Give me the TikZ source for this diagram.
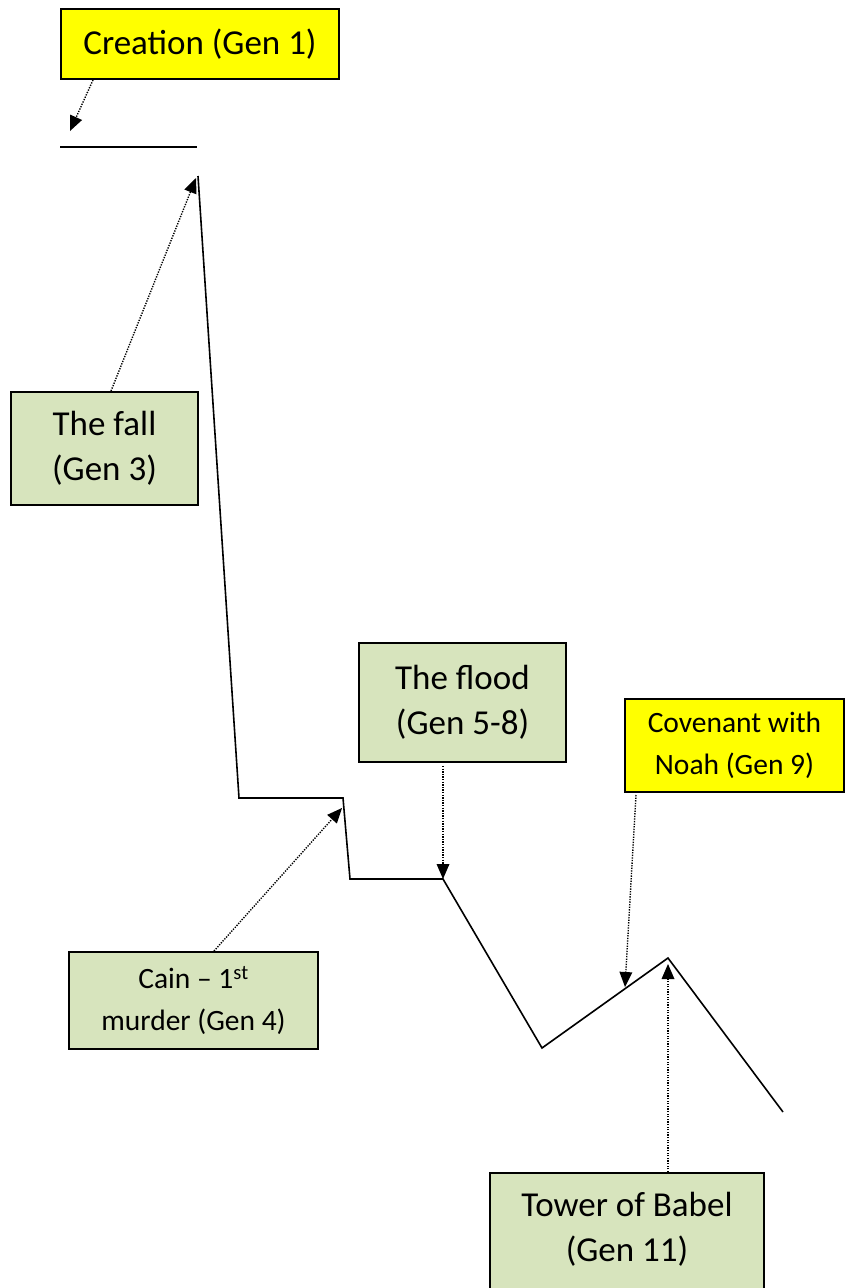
\documentclass[tikz,border=0pt]{standalone}
\usepackage{fontspec}
\setmainfont{Carlito}
\usetikzlibrary{arrows.meta}
\definecolor{boxyellow}{HTML}{FFFF00}
\definecolor{boxgreen}{HTML}{D7E4BD}
\begin{document}
\begin{tikzpicture}[x=1pt,y=-1pt,
  labelbox/.style={draw=black,line width=2pt,align=center,inner sep=0pt,anchor=north west},
  yellowbox/.style={labelbox,fill=boxyellow},
  greenbox/.style={labelbox,fill=boxgreen},
  bigtext/.style={font=\fontsize{35}{45}\selectfont},
  smalltext/.style={font=\fontsize{29.5}{42}\selectfont},
  history/.style={draw=black,line width=1.6pt,line join=miter},
  pointer/.style={draw=black,line width=1.4pt,dash pattern=on 1.3pt off 1.3pt,
    -{Triangle[length=15pt,width=13pt,line width=0pt]}}
]
\useasboundingbox (0,0) rectangle (844,1288);

% boxes
\node[yellowbox,bigtext,minimum width=278,minimum height=70] (creation) at (60,8) {Creation (Gen 1)};
\node[greenbox,bigtext,minimum width=187,minimum height=113] (fall) at (10,391) {The fall\\(Gen 3)};
\node[greenbox,bigtext,minimum width=207,minimum height=119] (flood) at (358,642) {The flood\\(Gen 5-8)};
\node[yellowbox,smalltext,minimum width=219,minimum height=93] (covenant) at (624,698) {Covenant with\\Noah (Gen 9)};
\node[greenbox,smalltext,minimum width=249,minimum height=97] (cain) at (68,951) {Cain -- 1\textsuperscript{st}\\murder (Gen 4)};
\node[greenbox,bigtext,minimum width=274,minimum height=140,text depth=33pt] (tower) at (489,1172) {Tower of Babel\\(Gen 11)};

% the line of history
\coordinate (t0) at (60,147);
\coordinate (t1) at (197,147);
\coordinate (p0) at (198,176);
\coordinate (p1) at (239,798);
\coordinate (p2) at (343,798);
\coordinate (p3) at (350,879);
\coordinate (p4) at (443,879);
\coordinate (p5) at (542,1048);
\coordinate (p6) at (668,958);
\coordinate (p7) at (783,1112);
\draw[history] (t0) -- (t1);
\draw[history] (p0) -- (p1) -- (p2) -- (p3) -- (p4) -- (p5) -- (p6) -- (p7);

% pointer targets
\coordinate (aCreation) at (70,131);
\coordinate (aFall) at (196,178);
\coordinate (aCain) at (342,808);
\coordinate (aFlood) at (443,879);
\coordinate (aCovenant) at (625,987);
\coordinate (aTower) at (668,964);

% pointers
\draw[pointer] ([xshift=33pt]creation.south west) -- (aCreation);
\draw[pointer] ([xshift=101pt]fall.north west) -- (aFall);
\draw[pointer] ([xshift=146pt]cain.north west) -- (aCain);
\draw[pointer] ([xshift=85pt,yshift=-3pt]flood.south west) -- (aFlood);
\draw[pointer] ([xshift=12pt,yshift=-2pt]covenant.south west) -- (aCovenant);
\draw[pointer] ([xshift=179pt]tower.north west) -- (aTower);
\end{tikzpicture}
\end{document}
